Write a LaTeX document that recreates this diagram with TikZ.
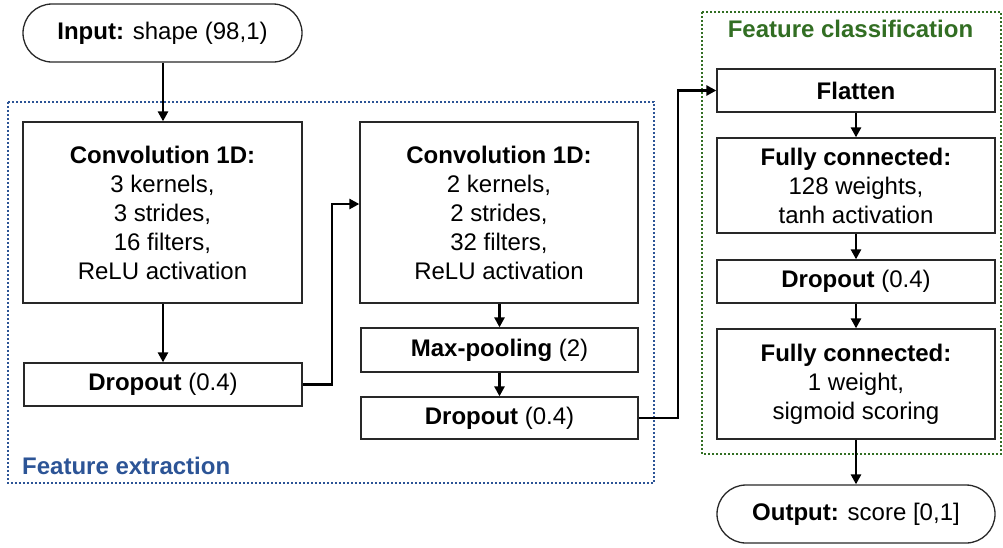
\documentclass[tikz,border=0pt]{standalone}
\usepackage{fontspec}
\setmainfont{Liberation Sans}
\usetikzlibrary{arrows.meta}
\definecolor{fxblue}{RGB}{44,84,150}
\definecolor{fcgreen}{RGB}{50,110,35}
\definecolor{boxline}{RGB}{40,40,40}
\tikzset{
  layer/.style={draw=boxline, line width=1.3pt, fill=white, align=center, inner sep=0pt,
    font=\fontsize{24}{29}\selectfont},
  term/.style={layer, rounded corners=29pt},
  arr/.style={line width=2.6pt, -{Triangle[length=10pt,width=10pt]}},
  grp/.style={line width=2.4pt, dash pattern=on 2pt off 2pt},
  grplabel/.style={font=\fontsize{24}{29}\selectfont\bfseries, inner sep=0pt}
}
\begin{document}
\begin{tikzpicture}[x=1pt,y=-1pt]
\useasboundingbox (0,0) rectangle (1003,547);
% group frames
\draw[grp, draw=fxblue] (8,102) rectangle (654,483);
\draw[grp, draw=fcgreen] (702,12) rectangle (1001,454);
\node[grplabel, text=fxblue, anchor=west] (fxlab) at (22,466) {Feature extraction};
\node[grplabel, text=fcgreen] (fclab) at (850.5,29) {Feature classification};
% nodes
\node[term, minimum width=279pt, minimum height=58pt] (input) at (162.5,33) {\textbf{Input:} shape (98,1)};
\node[layer, minimum width=279pt, minimum height=181pt] (conv1) at (162.5,212.5)
  {\textbf{Convolution 1D:}\\3 kernels,\\3 strides,\\16 filters,\\ReLU activation};
\node[layer, minimum width=278pt, minimum height=43pt] (drop1) at (163,384.5) {\textbf{Dropout} (0.4)};
\node[layer, minimum width=278pt, minimum height=181pt] (conv2) at (499,212.5)
  {\textbf{Convolution 1D:}\\2 kernels,\\2 strides,\\32 filters,\\ReLU activation};
\node[layer, minimum width=277pt, minimum height=44pt] (pool) at (499.5,350) {\textbf{Max-pooling} (2)};
\node[layer, minimum width=277pt, minimum height=42pt] (drop2) at (499.5,418) {\textbf{Dropout} (0.4)};
\node[layer, minimum width=278pt, minimum height=43pt] (flat) at (856,90.5) {\textbf{Flatten}};
\node[layer, minimum width=278pt, minimum height=95pt] (fc1) at (856,185.5)
  {\textbf{Fully connected:}\\128 weights,\\tanh activation};
\node[layer, minimum width=278pt, minimum height=43pt] (drop3) at (856,281.5) {\textbf{Dropout} (0.4)};
\node[layer, minimum width=278pt, minimum height=110pt] (fc2) at (856,384)
  {\textbf{Fully connected:}\\1 weight,\\sigmoid scoring};
\node[term, minimum width=278pt, minimum height=58pt] (output) at (856,514) {\textbf{Output:} score [0,1]};
% connectors
\coordinate (c1) at (332,204);
\coordinate (c2) at (678,90.5);
\draw[arr] (input.south -| 163,0) -- (conv1.north -| 163,0);
\draw[arr] (conv1.south -| 163,0) -- (drop1.north);
\draw[arr] (drop1.east) -| (c1) -- (conv2.west |- c1);
\draw[arr] (conv2.south -| pool.north) -- (pool.north);
\draw[arr] (pool) -- (drop2);
\draw[arr] (drop2.east) -| (c2) -- (flat.west);
\draw[arr] (flat) -- (fc1);
\draw[arr] (fc1) -- (drop3);
\draw[arr] (drop3) -- (fc2);
\draw[arr] (fc2) -- (output);
\end{tikzpicture}
\end{document}
